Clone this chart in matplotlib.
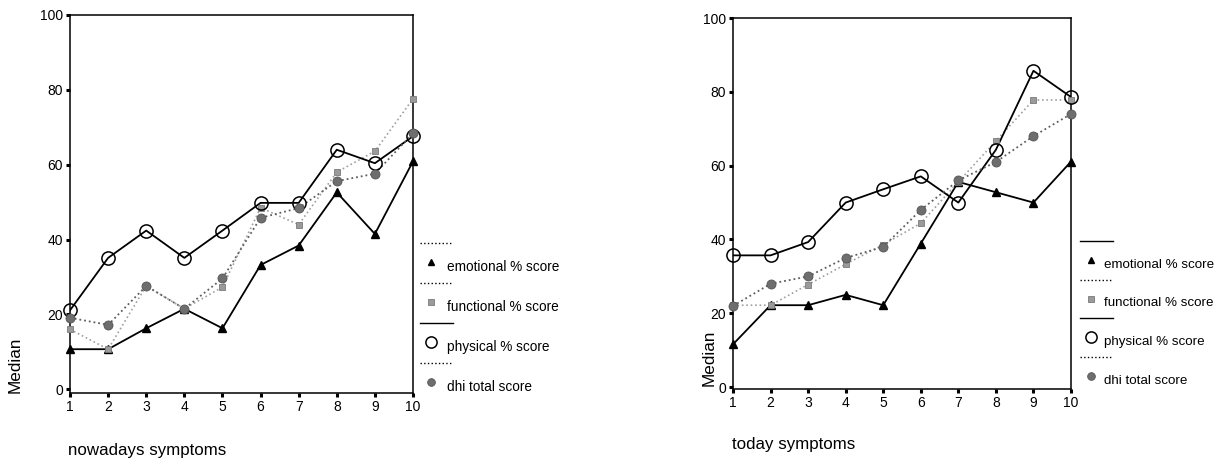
import matplotlib.pyplot as plt
from matplotlib.lines import Line2D

plt.rcParams['font.family'] = ['Liberation Sans', 'DejaVu Sans']

symptom_levels = [1, 2, 3, 4, 5, 6, 7, 8, 9, 10]

# nowadays symptoms
now_emotional = [10.7, 10.7, 16.3, 21.5, 16.3, 33.2, 38.4, 52.6, 41.5, 60.9]
now_functional = [16.0, 10.7, 27.6, 21.5, 27.3, 48.5, 44.0, 58.0, 63.6, 77.6]
now_physical = [21.1, 35.1, 42.4, 35.1, 42.4, 49.8, 49.8, 64.0, 60.4, 67.6]
now_dhi = [19.1, 17.2, 27.6, 21.5, 29.6, 45.8, 48.4, 55.6, 57.6, 68.4]

# today symptoms
today_emotional = [11.6, 22.2, 22.2, 25.0, 22.2, 38.9, 55.6, 52.8, 50.0, 61.1]
today_functional = [22.2, 22.2, 27.8, 33.3, 38.6, 44.4, 55.6, 66.7, 77.8, 77.8]
today_physical = [35.7, 35.7, 39.3, 50.0, 53.6, 57.1, 50.0, 64.3, 85.7, 78.6]
today_dhi = [22.0, 28.0, 30.0, 35.0, 38.0, 48.0, 56.0, 61.0, 68.0, 74.0]

y_ticks = [0, 20, 40, 60, 80, 100]

STYLES = {
    'emotional': dict(color='black', ls='-', lw=1.3, marker='^', ms=5.5,
                      mfc='black', mec='black'),
    'functional': dict(color='#a0a0a0', ls=':', lw=1.2, marker='s', ms=5,
                       mfc='#9a9a9a', mec='#7a7a7a', mew=0.6),
    'physical': dict(color='black', ls='-', lw=1.3, marker='o', ms=9.5,
                     mfc='none', mec='black', mew=1.1),
    'dhi': dict(color='#5e5e5e', ls=':', lw=1.3, marker='o', ms=6.5,
                mfc='#6e6e6e', mec='#555555', mew=0.6),
}

fig = plt.figure(figsize=(12.19, 4.59), dpi=100)


def draw_panel(rect, series, xlabel, ylim_low, median_xy, xlabel_xy):
    ax = fig.add_axes(rect)
    for key, values in series:
        st = STYLES[key]
        ax.plot(symptom_levels, values, color=st['color'], linestyle=st['ls'],
                linewidth=st['lw'], zorder=2)
    for key, values in series:
        st = STYLES[key]
        ax.plot(symptom_levels, values, linestyle='none', marker=st['marker'],
                markersize=st['ms'], markerfacecolor=st['mfc'],
                markeredgecolor=st['mec'], markeredgewidth=st.get('mew', 1.0),
                zorder=3, clip_on=False)
    ax.set_xlim(1, 10)
    ax.set_ylim(ylim_low, 100)
    ax.set_xticks(symptom_levels)
    ax.set_yticks(y_ticks)
    ax.tick_params(axis='both', direction='out', length=3, width=2.2,
                   labelsize=10, pad=2)
    for sp in ax.spines.values():
        sp.set_linewidth(1.1)
    fig.text(median_xy[0] / 1219, 1 - median_xy[1] / 459, 'Median',
             rotation=90, fontsize=12.3, ha='center', va='center')
    fig.text(xlabel_xy[0] / 1219, 1 - xlabel_xy[1] / 459, xlabel,
             fontsize=12.2, ha='left', va='center')
    return ax


ax_now = draw_panel([70 / 1219, 1 - 393 / 459, 343 / 1219, 378 / 459],
                    [('emotional', now_emotional), ('functional', now_functional),
                     ('physical', now_physical), ('dhi', now_dhi)],
                    'nowadays symptoms', -1, (15, 365), (68, 450))
ax_today = draw_panel([733 / 1219, 1 - 389 / 459, 338 / 1219, 371 / 459],
                      [('emotional', today_emotional), ('functional', today_functional),
                       ('physical', today_physical), ('dhi', today_dhi)],
                      'today symptoms', -0.5, (709, 358), (732, 445))

# legends: a line sample above each marker and label, laid out in figure pixels
leg = fig.add_axes([0, 0, 1, 1])
leg.set_xlim(0, 1219)
leg.set_ylim(459, 0)
leg.axis('off')

legend_labels = ['emotional % score', 'functional % score',
                 'physical % score', 'dhi total score']
legend_keys = ['emotional', 'functional', 'physical', 'dhi']


def draw_legend(x0, y0, line_styles, step=40, text_dx=27, fs=9.8):
    for i, (key, label) in enumerate(zip(legend_keys, legend_labels)):
        st = STYLES[key]
        y = y0 + i * step
        leg.add_line(Line2D([x0, x0 + 33], [y, y], color='black',
                            linestyle=line_styles[i], linewidth=1.0))
        leg.plot(x0 + 11, y + 19, linestyle='none', marker=st['marker'],
                 markersize=st['ms'] * 0.85, markerfacecolor=st['mfc'],
                 markeredgecolor=st['mec'], markeredgewidth=st.get('mew', 1.0))
        leg.text(x0 + text_dx, y + 24, label, fontsize=fs, ha='left', va='center')


draw_legend(420, 243, [':', ':', '-', ':'])
draw_legend(1080, 241, ['-', ':', '-', ':'], step=38.5, text_dx=24, fs=9.6)

fig.savefig('out.png', dpi=100)
